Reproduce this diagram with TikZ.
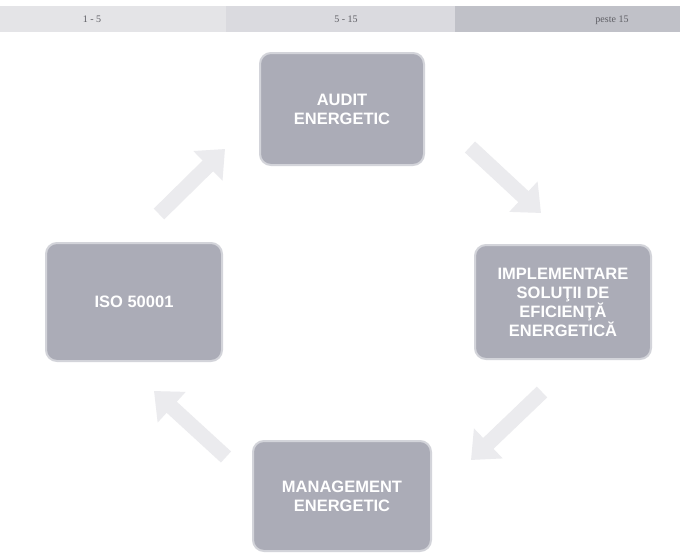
\documentclass[tikz,border=0pt]{standalone}
\usepackage{fontspec}
\setmainfont{Liberation Serif}
\newfontfamily\boxfont{Liberation Sans}
\usetikzlibrary{arrows.meta}
\definecolor{boxfill}{HTML}{ABACB7}
\definecolor{boxedge}{HTML}{D3D4DA}
\definecolor{arrowcol}{HTML}{EBEBEE}
\definecolor{barA}{HTML}{E4E4E7}
\definecolor{barB}{HTML}{DADADF}
\definecolor{barC}{HTML}{C0C1C8}
\definecolor{bartext}{HTML}{5E5E64}
\tikzset{
  stagebox/.style={draw=boxedge, line width=2pt, fill=boxfill, rounded corners=11pt,
    text=white, font=\boxfont\bfseries\fontsize{16.5}{19}\selectfont, align=center, inner sep=0pt},
  bigarrow/.style={draw=arrowcol, line width=15pt,
    -{Triangle[length=24pt, width=40pt]}},
  barseg/.style={draw=none, inner sep=0pt, anchor=north west},
  bartxt/.style={font=\fontsize{10}{11}\selectfont, text=bartext}
}
\begin{document}
\begin{tikzpicture}[x=1pt,y=-1pt]
\useasboundingbox (0,0) rectangle (680,554);
\fill[white] (0,0) rectangle (680,554);
% top bar
\node[barseg, fill=barA, minimum width=226pt, minimum height=26pt] (segA) at (0,6) {};
\node[barseg, fill=barB, minimum width=229pt, minimum height=26pt] (segB) at (226,6) {};
\node[barseg, fill=barC, minimum width=225pt, minimum height=26pt] (segC) at (455,6) {};
\node[bartxt] (tA) at (92,19) {1 - 5};
\node[bartxt] (tB) at (346,19) {5 - 15};
\node[bartxt] (tC) at (612,20) {peste 15};
% boxes
\node[stagebox, minimum width=164pt, minimum height=112pt] (audit) at (342,109) {AUDIT\\ENERGETIC};
\node[stagebox, minimum width=176pt, minimum height=114pt] (impl) at (563,302) {IMPLEMENTARE\\SOLU\c{T}II DE\\EFICIEN\c{T}\u{A}\\ENERGETIC\u{A}};
\node[stagebox, minimum width=176pt, minimum height=118pt] (iso) at (134,302) {ISO 50001};
\node[stagebox, minimum width=178pt, minimum height=110pt] (mgmt) at (342,496) {MANAGEMENT\\ENERGETIC};
% arrow end coordinates
\coordinate (a1s) at (470,147);
\coordinate (a1e) at (541,213);
\coordinate (a2s) at (542,392);
\coordinate (a2e) at (471,460);
\coordinate (a3s) at (226,457);
\coordinate (a3e) at (154,391);
\coordinate (a4s) at (159,214);
\coordinate (a4e) at (225,149);
\draw[bigarrow] (a1s) -- (a1e);
\draw[bigarrow] (a2s) -- (a2e);
\draw[bigarrow] (a3s) -- (a3e);
\draw[bigarrow] (a4s) -- (a4e);
\end{tikzpicture}
\end{document}
